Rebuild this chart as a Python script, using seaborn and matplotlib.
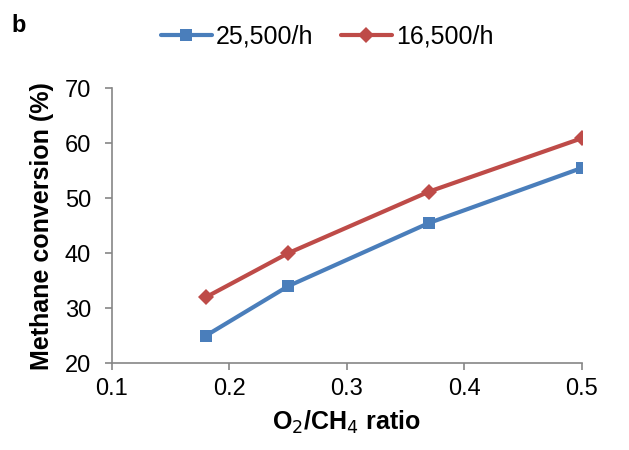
import pandas as pd
import matplotlib
matplotlib.use("Agg")
import matplotlib.pyplot as plt
import seaborn as sns

# data
ratio = [0.18, 0.25, 0.37, 0.50]
conv_25500 = [25.0, 34.0, 45.5, 55.5]
conv_16500 = [32.0, 40.0, 51.2, 60.9]
series_names = ["25,500/h", "16,500/h"]

df = pd.DataFrame({
    "ratio": ratio * 2,
    "conv": conv_25500 + conv_16500,
    "series": [series_names[0]] * len(ratio) + [series_names[1]] * len(ratio),
})

sns.set_style("white")
plt.rcParams["font.family"] = ["Liberation Sans", "DejaVu Sans"]
plt.rcParams["text.color"] = "black"
plt.rcParams["axes.labelcolor"] = "black"
plt.rcParams["xtick.color"] = "black"
plt.rcParams["ytick.color"] = "black"

fig = plt.figure(figsize=(6.29, 4.5), dpi=100)
ax = fig.add_axes([0.178, 0.193, 0.747, 0.611])

sns.lineplot(data=df, x="ratio", y="conv", hue="series", style="series",
             palette=["#4a7ebb", "#be4b48"], markers=["s", "D"], dashes=False,
             linewidth=3, markersize=8, markeredgewidth=0, ax=ax)

ax.set_xlim(0.1, 0.5)
ax.set_ylim(20, 70)
ax.set_xticks([0.1, 0.2, 0.3, 0.4, 0.5])
ax.set_yticks([20, 30, 40, 50, 60, 70])
ax.set_xticklabels(["0.1", "0.2", "0.3", "0.4", "0.5"])
ax.tick_params(axis="both", labelsize=17, direction="out", length=5, width=1.2,
               color="#868686", labelcolor="black", left=True, bottom=True)
ax.tick_params(axis="x", pad=6)
ax.tick_params(axis="y", pad=10)
for side in ["top", "right"]:
    ax.spines[side].set_visible(False)
for side in ["left", "bottom"]:
    ax.spines[side].set_color("#868686")
    ax.spines[side].set_linewidth(1.2)

ax.set_xlabel("O$_2$/CH$_4$ ratio", fontsize=18, fontweight="bold", labelpad=6)
ax.set_ylabel("Methane conversion (%)", fontsize=18, fontweight="bold", labelpad=8)

ax.legend(loc="center", bbox_to_anchor=(0.52, 0.918), bbox_transform=fig.transFigure,
          ncol=2, frameon=False, fontsize=18, handlelength=2.05, columnspacing=1.1,
          handletextpad=0.15, title=None)

fig.text(0.018, 0.93, "b", fontsize=17, fontweight="bold")

fig.savefig("out.png", dpi=100)
